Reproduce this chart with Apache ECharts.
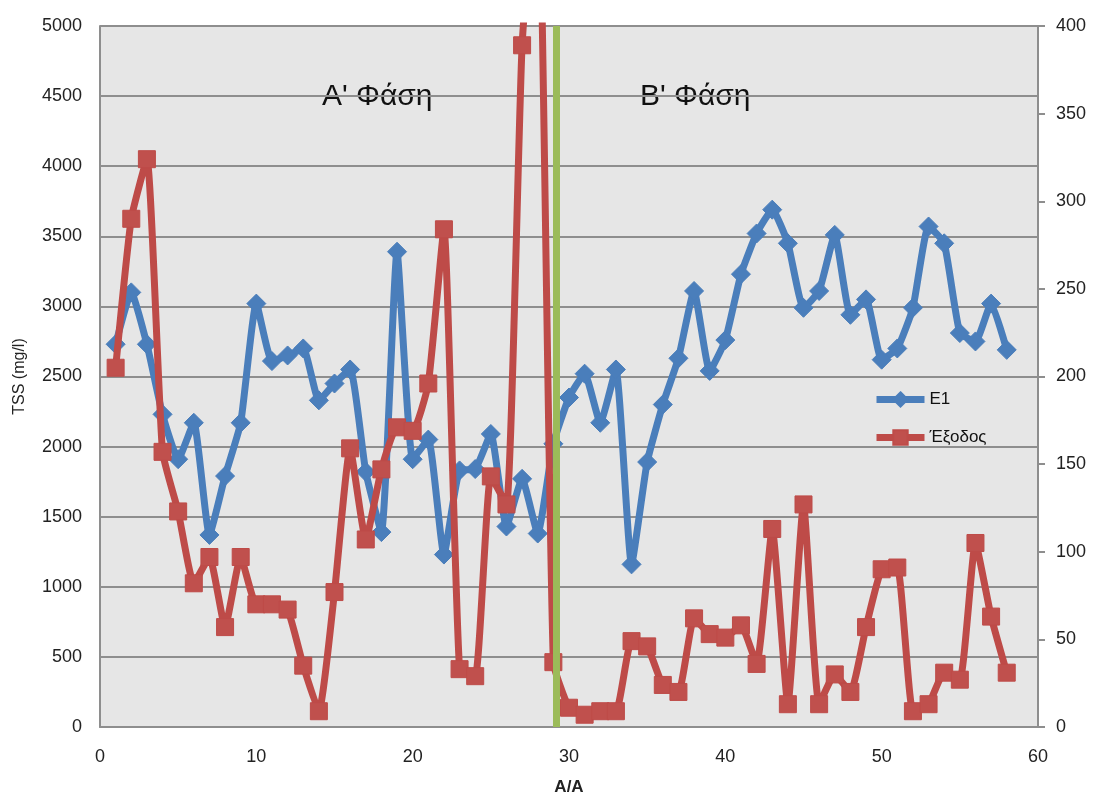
<!DOCTYPE html>
<html>
<head>
<meta charset="utf-8">
<script src="https://cdn.jsdelivr.net/npm/echarts@6/dist/echarts.min.js"></script>
<style>
  html, body { margin: 0; padding: 0; background: #ffffff; }
  #chart { width: 1094px; height: 795px; }
</style>
</head>
<body>
<div id="chart"></div>
<script>
// Sample number (A/A) for each measurement
const sampleNo = [
  1, 2, 3, 4, 5, 6, 7, 8, 9, 10, 11, 12, 13, 14, 15, 16, 17, 18, 19, 20,
  21, 22, 23, 24, 25, 26, 27, 28, 29, 30, 31, 32, 33, 34, 35, 36, 37, 38, 39, 40,
  41, 42, 43, 44, 45, 46, 47, 48, 49, 50, 51, 52, 53, 54, 55, 56, 57, 58
];

// TSS at E1 (mg/l), left axis
const tssE1 = [
  2730, 3100, 2730, 2230, 1910, 2170, 1370, 1790, 2170, 3020,
  2610, 2650, 2700, 2330, 2450, 2550, 1820, 1390, 3390, 1910,
  2050, 1230, 1830, 1840, 2090, 1430, 1770, 1380, 2020, 2350,
  2520, 2170, 2550, 1160, 1890, 2300, 2630, 3110, 2540, 2760,
  3230, 3520, 3690, 3450, 2990, 3110, 3510, 2940, 3050, 2620,
  2700, 2990, 3570, 3450, 2810, 2750, 3020, 2690
];

// TSS at the outlet (mg/l), right axis
const tssOut = [
  205, 290, 324, 157, 123, 82, 97, 57, 97, 70,
  70, 67, 35, 9, 77, 159, 107, 147, 171, 169,
  196, 284, 33, 29, 143, 127, 389, 500, 37, 11,
  7, 9, 9, 49, 46, 24, 20, 62, 53, 51,
  58, 36, 113, 13, 127, 13, 30, 20, 57, 90,
  91, 9, 13, 31, 27, 105, 63, 31
];

// Boundary between phase A and phase B
const phaseBoundary = 29.2;

// Axis ranges and steps
const xTicks = { min: 0, max: 60, step: 10 };
const leftTicks = { min: 0, max: 5000, step: 500 };
const rightTicks = { min: 0, max: 400, step: 50 };

const seriesNames = ['E1', 'Έξοδος'];
const phaseLabels = ["A' Φάση", "B' Φάση"];

const pair = (xs, ys) => xs.map((x, i) => [x, ys[i]]);
const plain = (v) => String(v);

const FONT = '"Liberation Sans", Arial, sans-serif';
const GRID_GREY = '#8e8e8e';
const BLUE = '#4a7ebb';
const RED = '#be4b48';
const GREEN = '#9bbb59';

const chart = echarts.init(document.getElementById('chart'), null, { renderer: 'canvas' });

chart.setOption({
  animation: false,
  backgroundColor: '#ffffff',
  textStyle: { fontFamily: FONT },
  grid: {
    left: 100, right: 56, top: 26, bottom: 68,
    containLabel: false, outerBoundsMode: 'none',
    show: true, backgroundColor: '#e6e6e6', borderWidth: 0
  },
  legend: {
    data: seriesNames,
    orient: 'vertical',
    left: 868, top: 386,
    itemWidth: 48, itemHeight: 18, itemGap: 21,
    lineStyle: { width: 7 },
    textStyle: { fontFamily: FONT, fontSize: 17, color: '#111' }
  },
  xAxis: {
    type: 'value',
    min: xTicks.min, max: xTicks.max, interval: xTicks.step,
    name: 'A/A', nameLocation: 'middle', nameGap: 52, nameMoveOverlap: false,
    nameTextStyle: { fontFamily: FONT, fontSize: 17, fontWeight: 'bold', color: '#222' },
    axisLine: { show: true, onZero: false, lineStyle: { color: GRID_GREY, width: 2 } },
    axisTick: { show: false },
    axisLabel: { margin: 21, fontFamily: FONT, fontSize: 18, color: '#222', formatter: plain },
    splitLine: { show: false }
  },
  yAxis: [
    {
      type: 'value',
      min: leftTicks.min, max: leftTicks.max, interval: leftTicks.step,
      name: 'TSS (mg/l)', nameLocation: 'middle', nameGap: 72, nameRotate: 90, nameMoveOverlap: false,
      nameTextStyle: { fontFamily: FONT, fontSize: 16, color: '#222' },
      axisLine: { show: true, lineStyle: { color: GRID_GREY, width: 2 } },
      axisTick: { show: false },
      axisLabel: { margin: 18, fontFamily: FONT, fontSize: 18, color: '#222', formatter: plain },
      splitLine: { show: true, lineStyle: { color: GRID_GREY, width: 2 } }
    },
    {
      type: 'value', position: 'right',
      min: rightTicks.min, max: rightTicks.max, interval: rightTicks.step,
      axisLine: { show: true, lineStyle: { color: GRID_GREY, width: 2 } },
      axisTick: { show: true, inside: false, length: 7, lineStyle: { color: GRID_GREY, width: 2 } },
      axisLabel: { margin: 18, fontFamily: FONT, fontSize: 18, color: '#222', formatter: plain },
      splitLine: { show: false }
    }
  ],
  series: [
    {
      name: seriesNames[0],
      type: 'line',
      yAxisIndex: 0,
      data: pair(sampleNo, tssE1),
      smooth: 0.15,
      symbol: 'diamond', symbolSize: 19,
      lineStyle: { color: BLUE, width: 7 },
      itemStyle: { color: BLUE, borderColor: BLUE, borderWidth: 1 },
      z: 2
    },
    {
      name: seriesNames[1],
      type: 'line',
      yAxisIndex: 1,
      data: pair(sampleNo, tssOut),
      smooth: 0.15,
      symbol: 'rect', symbolSize: 17,
      lineStyle: { color: RED, width: 7 },
      itemStyle: { color: '#c0504d', borderColor: RED, borderWidth: 1 },
      z: 3
    },
    {
      name: 'phase',
      type: 'line',
      yAxisIndex: 0,
      data: [[phaseBoundary, leftTicks.min], [phaseBoundary, leftTicks.max]],
      symbol: 'none',
      lineStyle: { color: GREEN, width: 7 },
      silent: true,
      z: 4
    }
  ],
  graphic: [
    {
      type: 'text', x: 322, y: 97,
      style: { text: phaseLabels[0], fontFamily: FONT, fontSize: 30, fill: '#111', verticalAlign: 'middle' }
    },
    {
      type: 'text', x: 640, y: 97,
      style: { text: phaseLabels[1], fontFamily: FONT, fontSize: 30, fill: '#111', verticalAlign: 'middle' }
    }
  ]
});
</script>
</body>
</html>
